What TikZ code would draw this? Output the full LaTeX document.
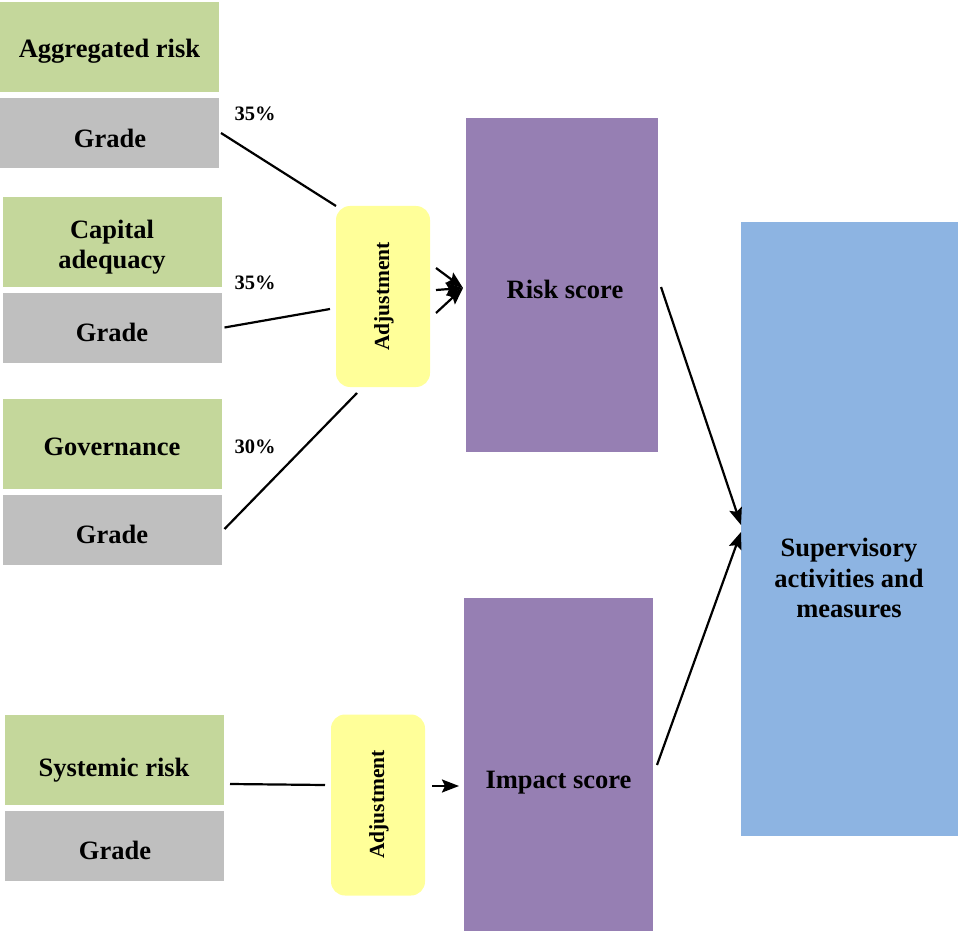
\documentclass[tikz,border=0pt]{standalone}
\usepackage{fontspec}
\setmainfont{Liberation Serif}
\usetikzlibrary{calc,arrows.meta}
\definecolor{gfill}{RGB}{196,215,155}
\definecolor{grfill}{RGB}{191,191,191}
\definecolor{yfill}{RGB}{255,255,153}
\definecolor{pfill}{RGB}{150,127,179}
\definecolor{bfill}{RGB}{141,180,226}
\tikzset{
  box/.style={inner sep=0pt, outer sep=0pt},
  lbl/.style={inner sep=0pt, align=center, font=\fontsize{26.5}{30.5}\selectfont\bfseries},
  greenbox/.style={box, fill=gfill, minimum width=219pt, minimum height=90pt},
  graybox/.style={box, fill=grfill, minimum width=219pt, minimum height=70pt},
  adjbox/.style={inner sep=0pt, outer sep=0pt, fill=yfill, rounded corners=14pt, minimum width=94pt, minimum height=181pt},
  adjtext/.style={font=\fontsize{21.5}{24}\selectfont\bfseries, rotate=90, inner sep=0pt},
  pct/.style={font=\fontsize{20.5}{24}\selectfont\bfseries, inner sep=0pt},
  conn/.style={line width=2.2pt, black},
  arr/.style={conn, -{Stealth[length=17pt,width=13pt,inset=3pt]}},
}
\begin{document}
\begin{tikzpicture}[x=1pt,y=-1pt]
\useasboundingbox (0,0) rectangle (958,933);
% left column
\node[greenbox] (ag) at (109.5,47) {};
\node[lbl] (agt) at (109.5,51) {Aggregated risk};
\node[graybox] (g1) at (109.5,133) {};
\node[lbl] (g1t) at (110,138) {Grade};
\node[greenbox] (ca) at (112,242) {};
\node[lbl] (cat) at (112,247) {Capital\\adequacy};
\node[graybox] (g2) at (112,327.5) {};
\node[lbl] (g2t) at (112,332) {Grade};
\node[greenbox] (gv) at (112,444) {};
\node[lbl] (gvt) at (112,447) {Governance};
\node[graybox] (g3) at (112,530) {};
\node[lbl] (g3t) at (112,534) {Grade};
\node[greenbox] (sr) at (114.5,760) {};
\node[lbl] (srt) at (114,770) {Systemic risk};
\node[graybox] (g4) at (114.5,846) {};
\node[lbl] (g4t) at (115,850) {Grade};
% adjustments
\node[adjbox] (adj1) at (383,296.5) {};
\node[adjtext] (adj1t) at (384,296.5) {Adjustment};
\node[adjbox] (adj2) at (378,805) {};
\node[adjtext] (adj2t) at (379,804.5) {Adjustment};
% scores
\node[box, fill=pfill, minimum width=192pt, minimum height=334pt] (rs) at (562,285) {};
\node[lbl] (rst) at (565,289) {Risk score};
\node[box, fill=pfill, minimum width=189pt, minimum height=333pt] (is) at (558.5,764.5) {};
\node[lbl] (ist) at (558.5,783) {Impact score};
\node[box, fill=bfill, minimum width=217pt, minimum height=614pt] (sv) at (849.5,529) {};
\node[lbl] (svt) at (849,578) {Supervisory\\activities and\\measures};
% percentages
\node[pct] (p1) at (255,114) {35\%};
\node[pct] (p2) at (255,283) {35\%};
\node[pct] (p3) at (255,447) {30\%};
% connectors
\coordinate (c1) at ($(adj1.north west)+(0,0)$);
\coordinate (c2) at ($(adj1.west)+(-6,12.5)$);
\coordinate (c3) at ($(adj1.south)+(-26,6)$);
\draw[conn] ($(g1.east)+(2,0)$) -- (c1);
\draw[conn] ($(g2.east)+(3,0)$) -- (c2);
\draw[conn] ($(g3.east)+(3,-1)$) -- (c3);
\coordinate (rin) at ($(rs.west)+(-3,3)$);
\draw[arr] ($(adj1.east)+(6,-28.5)$) -- (rin);
\draw[arr] ($(adj1.east)+(6,-6.5)$) -- (rin);
\draw[arr] ($(adj1.east)+(6,16.5)$) -- (rin);
\draw[conn] ($(sr.east)+(6,24)$) -- ($(adj2.west)+(-6,-20)$);
\draw[arr] ($(adj2.east)+(7,-19)$) -- ($(is.west)+(-5,21.5)$);
\draw[arr] ($(rs.east)+(3,2)$) -- ($(sv.west)+(0,-4)$);
\draw[arr] ($(is.east)+(4,0.5)$) -- ($(sv.west)+(0,3)$);
\end{tikzpicture}
\end{document}
